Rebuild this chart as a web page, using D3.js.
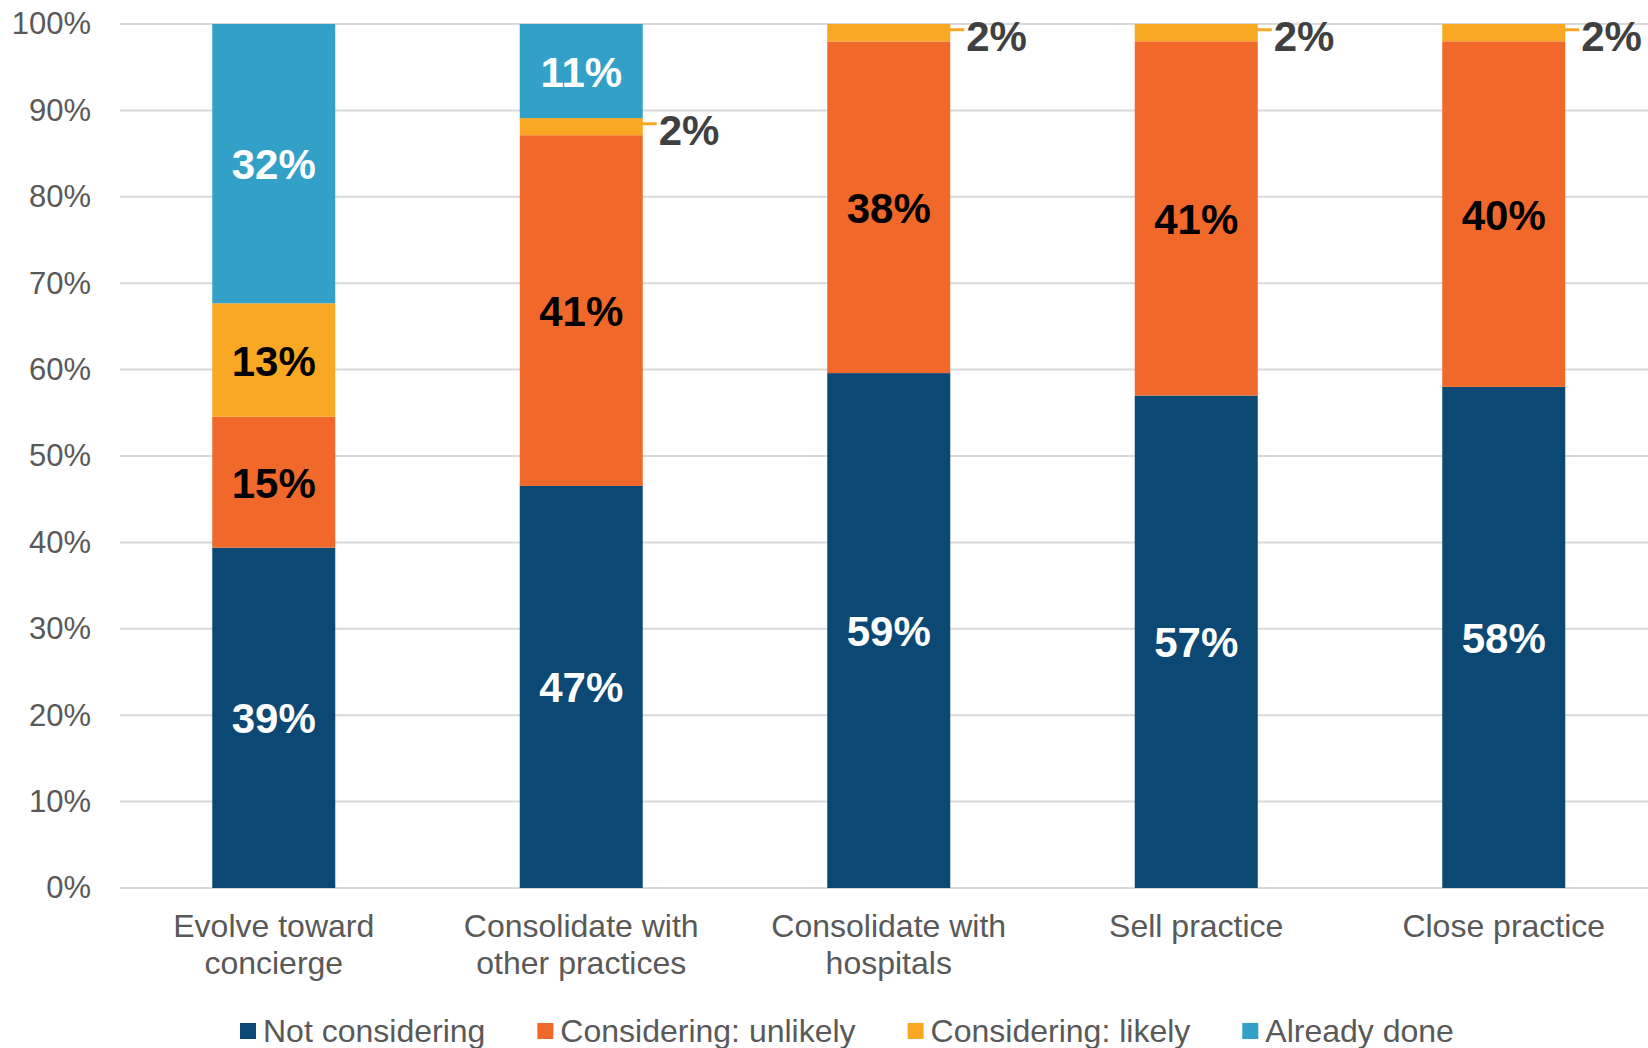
<!DOCTYPE html>
<html>
<head>
<meta charset="utf-8">
<script src="https://cdn.jsdelivr.net/npm/d3@7"></script>
<style>
  html, body { margin: 0; padding: 0; background: #ffffff; }
  svg { display: block; font-family: "Liberation Sans", Arial, sans-serif; }
</style>
</head>
<body>
<svg id="chart" width="1648" height="1048"></svg>
<script>
// Survey responses: share of practices by plan status
const categories = [
  "Evolve toward\nconcierge",
  "Consolidate with\nother practices",
  "Consolidate with\nhospitals",
  "Sell practice",
  "Close practice"
];
const seriesNames = ["Not considering", "Considering: unlikely", "Considering: likely", "Already done"];
const notConsidering      = [39, 47, 59, 57, 58];
const consideringUnlikely = [15, 41, 38, 41, 40];
const consideringLikely   = [13, 2, 2, 2, 2];
const alreadyDone         = [32, 11, 0, 0, 0];
const yTickValues = [0, 0.1, 0.2, 0.3, 0.4, 0.5, 0.6, 0.7, 0.8, 0.9, 1];

const seriesValues = [notConsidering, consideringUnlikely, consideringLikely, alreadyDone];
const colors = ["#0B4873", "#F1682B", "#F9A823", "#33A0C8"];
const labelColors = ["#ffffff", "#000000", "#000000", "#ffffff"];

const rows = categories.map((c, i) => {
  const r = { category: c };
  seriesNames.forEach((s, k) => { r[s] = seriesValues[k][i]; });
  return r;
});

const svg = d3.select("#chart");
const margin = { left: 120, top: 24, bottom: 888, right: 1657.5 };

const x = d3.scaleBand()
  .domain(categories)
  .range([margin.left, margin.right])
  .paddingInner(0.6)
  .paddingOuter(0.3);

const y = d3.scaleLinear().domain([0, 1]).range([margin.bottom, margin.top]);

// gridlines
svg.append("g")
  .selectAll("line")
  .data(yTickValues)
  .join("line")
  .attr("x1", margin.left)
  .attr("x2", margin.right)
  .attr("y1", d => y(d))
  .attr("y2", d => y(d))
  .attr("stroke", "#d9d9d9")
  .attr("stroke-width", 2);

// y axis labels
const yAxis = d3.axisLeft(y)
  .tickValues(yTickValues)
  .tickFormat(d3.format(".0%"))
  .tickSize(0)
  .tickPadding(0);
const yg = svg.append("g")
  .attr("transform", `translate(${margin.left - 29},0)`)
  .call(yAxis);
yg.select(".domain").remove();
yg.selectAll("text")
  .attr("font-family", "Liberation Sans, Arial, sans-serif")
  .attr("font-size", 31)
  .attr("fill", "#595959");

// stacked bars, normalized to 100%
const stack = d3.stack().keys(seriesNames).offset(d3.stackOffsetExpand);
const layers = stack(rows);

const barG = svg.append("g");
layers.forEach((layer, k) => {
  barG.append("g")
    .attr("fill", colors[k])
    .selectAll("rect")
    .data(layer)
    .join("rect")
    .attr("x", d => x(d.data.category))
    .attr("width", x.bandwidth())
    .attr("y", d => y(d[1]))
    .attr("height", d => Math.max(0, y(d[0]) - y(d[1])));
});

// value labels; thin segments get a leader line and an outside label
const labelG = svg.append("g")
  .attr("font-family", "Liberation Sans, Arial, sans-serif")
  .attr("font-weight", "bold")
  .attr("font-size", 42);

layers.forEach((layer, k) => {
  layer.forEach((d, i) => {
    const v = seriesValues[k][i];
    if (v <= 0) return;
    const cx = x(d.data.category) + x.bandwidth() / 2;
    const cy = (y(d[0]) + y(d[1])) / 2;
    if (v <= 2) {
      const right = x(d.data.category) + x.bandwidth();
      labelG.append("line")
        .attr("x1", right - 22)
        .attr("x2", right + 14)
        .attr("y1", cy - 3)
        .attr("y2", cy - 3)
        .attr("stroke", colors[k])
        .attr("stroke-width", 3);
      labelG.append("text")
        .attr("x", right + 16)
        .attr("y", cy + 4)
        .attr("dominant-baseline", "central")
        .attr("fill", "#404040")
        .text(v + "%");
    } else {
      labelG.append("text")
        .attr("x", cx)
        .attr("y", cy + 1)
        .attr("text-anchor", "middle")
        .attr("dominant-baseline", "central")
        .attr("fill", labelColors[k])
        .text(v + "%");
    }
  });
});

// category labels
const xg = svg.append("g")
  .attr("font-family", "Liberation Sans, Arial, sans-serif")
  .attr("font-size", 32)
  .attr("fill", "#595959")
  .attr("text-anchor", "middle");
categories.forEach(c => {
  const t = xg.append("text").attr("x", x(c) + x.bandwidth() / 2).attr("y", 937);
  c.split("\n").forEach((line, j) => {
    t.append("tspan")
      .attr("x", x(c) + x.bandwidth() / 2)
      .attr("dy", j === 0 ? 0 : 36.5)
      .text(line);
  });
});

// legend
const legend = svg.append("g")
  .attr("font-family", "Liberation Sans, Arial, sans-serif")
  .attr("font-size", 32)
  .attr("fill", "#595959");
let lx = 240;
const ly = 1031;
seriesNames.forEach((s, k) => {
  legend.append("rect")
    .attr("x", lx)
    .attr("y", ly - 8)
    .attr("width", 16)
    .attr("height", 16)
    .attr("fill", colors[k]);
  const t = legend.append("text")
    .attr("x", lx + 23)
    .attr("y", ly)
    .attr("dominant-baseline", "central")
    .text(s);
  lx += 23 + t.node().getComputedTextLength() + 52;
});
</script>
</body>
</html>
